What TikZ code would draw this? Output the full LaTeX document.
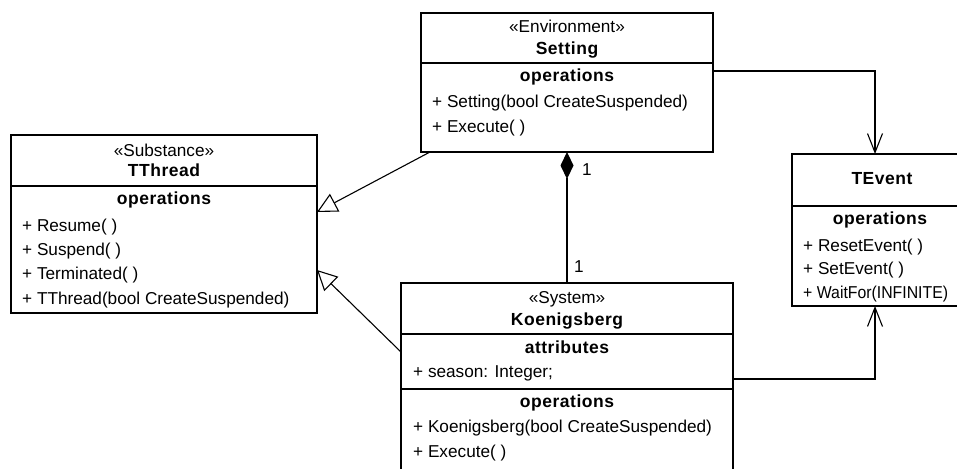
\documentclass[tikz,border=0pt]{standalone}
\usepackage{fontspec}
\setmainfont{Liberation Sans}
\usetikzlibrary{arrows.meta}

\tikzset{
  umlbox/.style={draw=black, line width=1.6pt, fill=white, inner sep=0pt, outer sep=0pt},
  divider/.style={draw=black, line width=1.6pt},
  txt/.style={inner sep=0pt, font=\fontsize{17.2}{20}\selectfont},
  narrow/.style={inner sep=0pt, font=\fontsize{17.2}{20}\selectfont\addfontfeatures{FakeStretch=0.92}},
  bold/.style={inner sep=0pt, font=\fontsize{17.5}{20}\selectfont\bfseries\addfontfeatures{LetterSpace=3}},
  link/.style={draw=black, line width=1.1pt},
  generalization/.style={link, -{Triangle[open, length=20pt, width=20pt, fill=white]}},
  navigable/.style={link, -{Straight Barb[length=19pt, width=15pt]}},
  composition/.style={link, {Diamond[length=27pt, width=13pt, fill=black]}-},
}

\begin{document}
\begin{tikzpicture}[x=1pt, y=-1pt]
\useasboundingbox (0,0) rectangle (957,468);

% ---- class boxes ----
\node[umlbox, minimum width=306pt, minimum height=178pt] (thread) at (164,224) {};
\node[umlbox, minimum width=292pt, minimum height=139pt] (set) at (567,82.5) {};
\node[umlbox, minimum width=176pt, minimum height=152pt] (tev) at (880,230) {};
\node[umlbox, minimum width=332pt, minimum height=189pt] (koe) at (567,377.5) {};

% compartment separators
\draw[divider] ([yshift=-51pt]thread.north west) -- ([yshift=-51pt]thread.north east);
\draw[divider] ([yshift=-50pt]set.north west) -- ([yshift=-50pt]set.north east);
\draw[divider] ([yshift=-52pt]tev.north west) -- ([yshift=-52pt]tev.north east);
\draw[divider] ([yshift=-51pt]koe.north west) -- ([yshift=-51pt]koe.north east);
\draw[divider] ([yshift=-106pt]koe.north west) -- ([yshift=-106pt]koe.north east);

% ---- TThread ----
\node[txt, anchor=base] (thS) at (164,156.7) {«Substance»};
\node[bold, anchor=base] (thN) at (164,176.7) {TThread};
\node[bold, anchor=base] (thO) at (164,204) {operations};
\node[txt, anchor=base west] (th1) at (22,231.5) {+ Resume(~)};
\node[txt, anchor=base west] (th2) at (22,255) {+ Suspend(~)};
\node[txt, anchor=base west] (th3) at (22,279.5) {+ Terminated(~)};
\node[txt, anchor=base west] (th4) at (22,304) {+ TThread(bool CreateSuspended)};

% ---- Setting ----
\node[txt, anchor=base] (stS) at (567,33) {«Environment»};
\node[bold, anchor=base] (stN) at (567,55) {Setting};
\node[bold, anchor=base] (stO) at (567,82) {operations};
\node[txt, anchor=base west] (st1) at (432,107) {+ Setting(bool CreateSuspended)};
\node[txt, anchor=base west] (st2) at (432,132) {+ Execute(~)};

% ---- TEvent ----
\node[bold, anchor=base] (evN) at (882,184) {TEvent};
\node[bold, anchor=base] (evO) at (880,224) {operations};
\node[txt, anchor=base west] (ev1) at (803,251) {+ ResetEvent(~)};
\node[txt, anchor=base west] (ev2) at (803,274.5) {+ SetEvent(~)};
\node[narrow, anchor=base west] (ev3) at (803,298) {+ WaitFor(INFINITE)};

% ---- Koenigsberg ----
\node[txt, anchor=base] (kgS) at (567,303) {«System»};
\node[bold, anchor=base] (kgN) at (567,325) {Koenigsberg};
\node[bold, anchor=base] (kgA) at (567,353) {attributes};
\node[txt, anchor=base west] (kg1) at (413,377.5) {+ season: Integer;};
\node[bold, anchor=base] (kgO) at (567,407) {operations};
\node[txt, anchor=base west] (kg2) at (413,432) {+ Koenigsberg(bool CreateSuspended)};
\node[txt, anchor=base west] (kg3) at (413,457) {+ Execute(~)};

% ---- relationships ----
\draw[generalization] ([xshift=9pt]set.south west) -- ([yshift=-77pt]thread.north east);
\draw[generalization] ([yshift=-69pt]koe.north west) -- ([yshift=-135pt]thread.north east);
\draw[composition] (set.south) -- (koe.north);
\draw[navigable] ([yshift=-58pt]set.north east) -| ([xshift=-5pt]tev.north);
\draw[navigable] ([yshift=-96pt]koe.north east) -| ([xshift=-5pt]tev.south);

% multiplicities
\node[txt, anchor=base west] (m1) at (582,175) {1};
\node[txt, anchor=base west] (m2) at (574,272) {1};
\end{tikzpicture}
\end{document}
